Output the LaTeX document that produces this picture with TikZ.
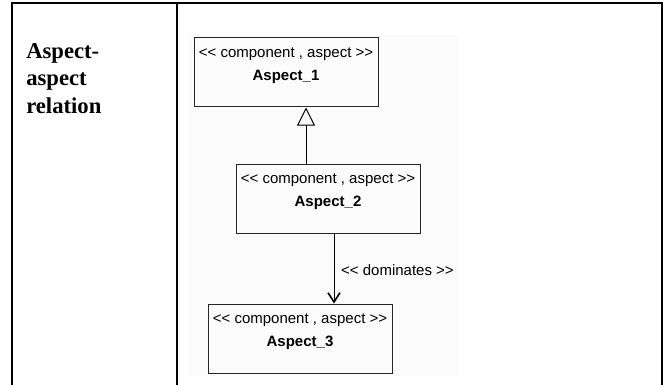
\documentclass[tikz,border=0pt]{standalone}
\usepackage{fontspec}
\setmainfont{Liberation Serif}
\newfontfamily\umlfont[Ligatures=TeXOff]{Liberation Sans}
\usetikzlibrary{arrows.meta,calc}

\begin{document}
\begin{tikzpicture}[
  x=0.75pt, y=-0.75pt,
  table line/.style={line width=1.5pt},
  umlclass/.style={draw=black!85, line width=0.75pt, minimum width=138pt,
    minimum height=51.75pt, inner sep=0pt,
    label={[anchor=north, yshift=-7.5pt, align=center, inner sep=0pt,
      font=\umlfont\fontsize{11.25}{17}\selectfont]north:{<< component , aspect >>\\\textbf{#1}}}},
  inherit/.style={draw, line width=0.75pt, -{Triangle[open, length=13.5pt, width=13.5pt]}},
  dominate/.style={draw, line width=0.75pt, -{Straight Barb[length=7pt, width=9pt, line width=1.2pt]}},
  rel label/.style={font=\umlfont\fontsize{11.25}{13}\selectfont, inner sep=5pt}
]
\useasboundingbox (0,0) rectangle (664,385);
% Table
\draw[table line] (12,385) -- (12,3) -- (662,3) -- (662,385);
\draw[table line] (177,3) -- (177,385);
\node[anchor=north west, inner sep=0pt, align=left,
  font=\bfseries\fontsize{17}{20.6}\selectfont] (title) at (26,43) {Aspect-\\aspect\\relation};
% Diagram
\fill[black!1.5] (188,35) rectangle (458,376);
\node[umlclass=Aspect\_1] (a1) at (286,72.5) {};
\node[umlclass=Aspect\_2] (a2) at (328,198.5) {};
\node[umlclass=Aspect\_3] (a3) at (300,338.5) {};
% Relations
\coordinate (g) at ($(a2.north)+(-22,0)$);
\draw[inherit] (g) -- (g |- a1.south);
\coordinate (d) at ($(a2.south)+(6,0)$);
\draw[dominate] (d) -- node[rel label, right, pos=0.53] (dom) {<< dominates >>} (d |- a3.north);
\end{tikzpicture}
\end{document}
